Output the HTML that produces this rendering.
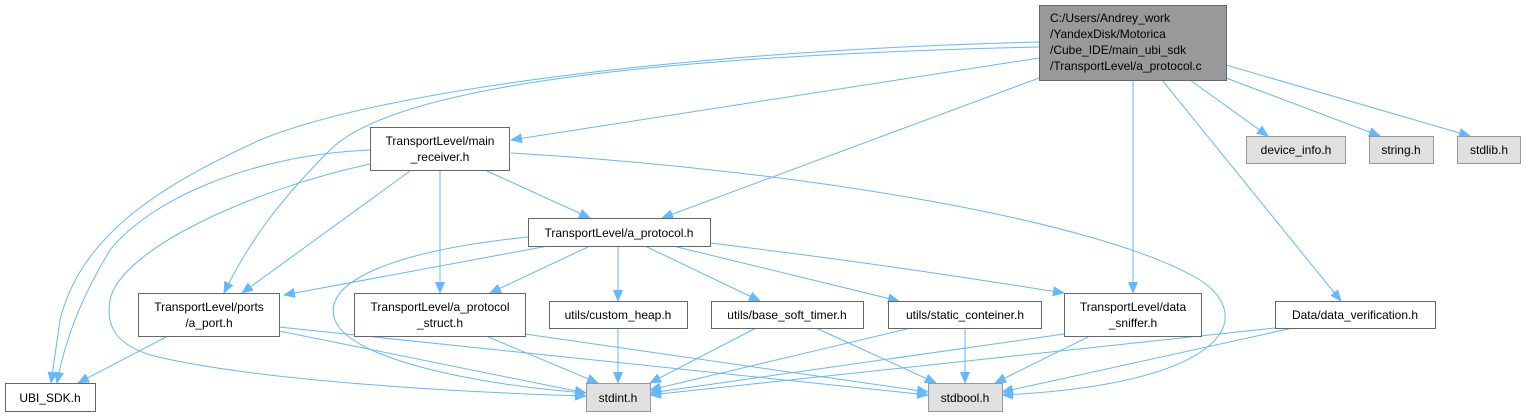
<!DOCTYPE html>
<html><head><meta charset="utf-8"><style>
html,body{margin:0;padding:0;background:#fff;}
svg{display:block;}
text{font-family:"Liberation Sans",Arial,sans-serif;font-size:12px;fill:#000;}
.n{fill:#fff;stroke:#666;stroke-width:1;}
.g{fill:#e0e0e0;stroke:#999;stroke-width:1;}
.e{fill:none;stroke:#63b8ff;stroke-width:1;}
</style></head><body>
<svg width="1526" height="416" viewBox="0 0 1526 416" xmlns="http://www.w3.org/2000/svg">
<defs><marker id="a" markerWidth="12" markerHeight="10" refX="11" refY="5" orient="auto" markerUnits="userSpaceOnUse"><path d="M0,0 L12,5 L0,10 z" fill="#63b8ff"/></marker></defs>
<g class="e" marker-end="url(#a)">
<path d="M1039,42 C700,50 380,90 260,140 C150,190 80,240 60,320 L51,383"/>
<path d="M1039,47 C700,55 400,80 330,150 C280,200 250,240 224,293"/>
<path d="M1039,58 L511,140"/>
<path d="M1039,78 L662,218"/>
<path d="M1133,80 L1133,293"/>
<path d="M1162,80 L1341,301"/>
<path d="M1190,80 L1268,136"/>
<path d="M1226,78 L1380,136"/>
<path d="M1226,65 L1470,136"/>
<path d="M370,150 C250,155 150,200 110,250 C80,300 65,340 57,383"/>
<path d="M370,164 C250,190 120,250 110,300 C105,330 120,345 150,355 C250,380 450,392 586,396"/>
<path d="M410,171 L242,293"/>
<path d="M440,171 L440,293"/>
<path d="M487,171 L590,218"/>
<path d="M511,153 C800,170 1100,220 1200,280 C1260,320 1220,385 1002,395"/>
<path d="M528,237 C400,250 320,280 335,320 C350,360 480,385 586,393"/>
<path d="M548,246 L284,295"/>
<path d="M590,246 L490,293"/>
<path d="M618,246 L618,301"/>
<path d="M645,246 L760,301"/>
<path d="M673,246 L899,301"/>
<path d="M710,243 C850,260 950,275 1064,293"/>
<path d="M168,336 L78,383"/>
<path d="M279,331 L586,393"/>
<path d="M279,327 L928,395"/>
<path d="M486,336 L598,383"/>
<path d="M525,334 L928,392"/>
<path d="M618,328 L618,383"/>
<path d="M756,328 L650,383"/>
<path d="M816,328 L936,383"/>
<path d="M911,328 L650,390"/>
<path d="M965,328 L965,383"/>
<path d="M1064,334 L650,393"/>
<path d="M1090,336 L995,383"/>
<path d="M1275,328 L650,395"/>
<path d="M1293,328 L1002,392"/>
</g>
<rect x="1039.5" y="5.5" width="187" height="75" fill="#999" stroke="#666"/>
<text x="1050" y="22">C:/Users/Andrey_work</text>
<text x="1050" y="38">/YandexDisk/Motorica</text>
<text x="1050" y="54">/Cube_IDE/main_ubi_sdk</text>
<text x="1050" y="70">/TransportLevel/a_protocol.c</text>
<rect class="n" x="370.5" y="127.5" width="139" height="43"/>
<text x="440" y="145" text-anchor="middle">TransportLevel/main</text>
<text x="440" y="161" text-anchor="middle">_receiver.h</text>
<rect class="n" x="528.5" y="218.5" width="182" height="28"/>
<text x="619" y="237" text-anchor="middle">TransportLevel/a_protocol.h</text>
<rect class="n" x="138.5" y="293.5" width="141" height="43"/>
<text x="209" y="311" text-anchor="middle">TransportLevel/ports</text>
<text x="209" y="327" text-anchor="middle">/a_port.h</text>
<rect class="n" x="354.5" y="293.5" width="171" height="43"/>
<text x="440" y="311" text-anchor="middle">TransportLevel/a_protocol</text>
<text x="440" y="327" text-anchor="middle">_struct.h</text>
<rect class="n" x="549.5" y="301.5" width="138" height="27"/>
<text x="618" y="319" text-anchor="middle">utils/custom_heap.h</text>
<rect class="n" x="711.5" y="301.5" width="152" height="27"/>
<text x="787" y="319" text-anchor="middle">utils/base_soft_timer.h</text>
<rect class="n" x="888.5" y="301.5" width="153" height="27"/>
<text x="965" y="319" text-anchor="middle">utils/static_conteiner.h</text>
<rect class="n" x="1064.5" y="293.5" width="137" height="43"/>
<text x="1133" y="311" text-anchor="middle">TransportLevel/data</text>
<text x="1133" y="327" text-anchor="middle">_sniffer.h</text>
<rect class="n" x="1275.5" y="301.5" width="160" height="27"/>
<text x="1355" y="319" text-anchor="middle">Data/data_verification.h</text>
<rect class="n" x="5.5" y="383.5" width="90" height="28"/>
<text x="50" y="402" text-anchor="middle">UBI_SDK.h</text>
<rect class="g" x="586.5" y="383.5" width="64" height="28"/>
<text x="618" y="402" text-anchor="middle">stdint.h</text>
<rect class="g" x="928.5" y="383.5" width="74" height="28"/>
<text x="965" y="402" text-anchor="middle">stdbool.h</text>
<rect class="g" x="1246.5" y="136.5" width="99" height="27"/>
<text x="1296" y="154" text-anchor="middle">device_info.h</text>
<rect class="g" x="1369.5" y="136.5" width="64" height="27"/>
<text x="1401" y="154" text-anchor="middle">string.h</text>
<rect class="g" x="1457.5" y="136.5" width="63" height="27"/>
<text x="1489" y="154" text-anchor="middle">stdlib.h</text>
</svg>
</body></html>
